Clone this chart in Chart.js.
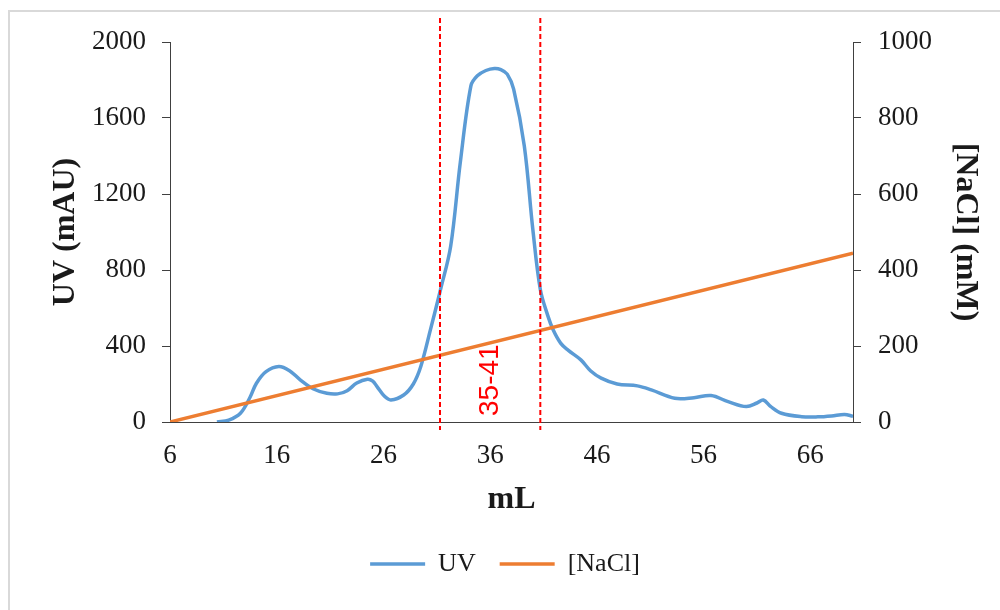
<!DOCTYPE html>
<html><head><meta charset="utf-8">
<script src="https://cdn.jsdelivr.net/npm/chart.js@4.4.1/dist/chart.umd.min.js"></script>
<style>
html,body{margin:0;padding:0;background:#fff;}
#frame{position:absolute;left:8px;top:10px;width:992px;height:600px;border-top:2px solid #d9d9d9;border-left:2px solid #d9d9d9;box-sizing:border-box;}
#wrap{position:absolute;left:0;top:0;width:1000px;height:610px;}
</style></head><body>
<div id="frame"></div>
<div id="wrap"><canvas id="c" width="1000" height="610"></canvas></div>
<script>
// ---- data ----
const uvVolume = [10.4, 11.5, 12.6, 13.5, 14.1, 15.0, 16.2, 17.2, 18.2, 19.4, 20.7, 21.7, 22.6, 23.5, 24.5, 25.0, 25.4, 26.1, 26.7, 27.9, 28.8, 29.5, 30.4, 31.35, 32.3, 33.2, 34.2, 34.8, 35.6, 36.4, 37.0, 37.6, 38.2, 39.2, 40.0, 40.7, 41.4, 41.9, 42.6, 43.3, 44.5, 45.4, 46.4, 47.9, 49.8, 51.1, 53.3, 55.1, 56.7, 58.3, 60.0, 61.0, 61.6, 62.3, 63.3, 65.2, 66.7, 68.0, 69.2, 70.0];
const uvValues = [0, 10, 46, 130, 204, 265, 292, 270, 222, 175, 151, 148, 165, 205, 225, 215, 186, 135, 116, 142, 200, 292, 485, 697, 925, 1365, 1770, 1822, 1850, 1861, 1855, 1831, 1752, 1453, 1013, 697, 560, 485, 415, 378, 327, 270, 231, 200, 190, 169, 125, 128, 139, 107, 81, 100, 116, 81, 46, 28, 27, 32, 40, 30];
const naclVolume = [6, 70];
const naclValues = [0, 444];
const xTicks = [6, 16, 26, 36, 46, 56, 66];
const uvTicks = [0, 400, 800, 1200, 1600, 2000];
const naclTicks = [0, 200, 400, 600, 800, 1000];
const fractionBounds = [31.3, 40.7];
const fractionLabel = '35-41';
const fractionLabelAt = 36;

const serif = '"Liberation Serif", "Times New Roman", serif';
const axisColor = '#404040';
const textColor = '#1a1a1a';

const toPoints = (xs, ys) => xs.map((v, i) => ({x: v, y: ys[i]}));
const plain = v => String(v);

const fractionPlugin = {
  id: 'fractions',
  afterDatasetsDraw(chart) {
    const {ctx, chartArea, scales} = chart;
    const x = scales.x;
    ctx.save();
    ctx.strokeStyle = '#ff0000';
    ctx.lineWidth = 2;
    ctx.setLineDash([5, 3]);
    fractionBounds.forEach(v => {
      const px = x.getPixelForValue(v);
      ctx.beginPath();
      ctx.moveTo(px, chartArea.top - 24);
      ctx.lineTo(px, chartArea.bottom + 8);
      ctx.stroke();
    });
    ctx.setLineDash([]);
    ctx.translate(x.getPixelForValue(fractionLabelAt), chartArea.bottom - 6);
    ctx.rotate(-Math.PI / 2);
    ctx.fillStyle = '#ff0000';
    ctx.font = '28px "Liberation Sans", Arial, sans-serif';
    ctx.textAlign = 'left';
    ctx.textBaseline = 'middle';
    ctx.fillText(fractionLabel, 0, 0);
    ctx.restore();
  }
};

new Chart(document.getElementById('c'), {
  type: 'line',
  data: {
    datasets: [
      {label: 'UV', data: toPoints(uvVolume, uvValues), yAxisID: 'y', borderColor: '#5b9bd5', backgroundColor: '#5b9bd5', borderWidth: 3.5, pointRadius: 0, tension: 0.35, order: 1},
      {label: '[NaCl]', data: toPoints(naclVolume, naclValues), yAxisID: 'y2', borderColor: '#ed7d31', backgroundColor: '#ed7d31', borderWidth: 3.5, pointRadius: 0, order: 0}
    ]
  },
  options: {
    responsive: false,
    animation: false,
    devicePixelRatio: 1,
    layout: {padding: {left: 20, right: 10, top: 42, bottom: 23}},
    plugins: {
      tooltip: {enabled: false},
      legend: {
        position: 'bottom',
        labels: {usePointStyle: true, pointStyle: 'line', pointStyleWidth: 55, font: {family: serif, size: 26}, color: textColor, padding: 24,
                 sort: (a, b) => a.datasetIndex - b.datasetIndex}
      }
    },
    scales: {
      x: {
        type: 'linear', position: 'bottom', min: 6, max: 70,
        afterBuildTicks: s => { s.ticks = xTicks.map(v => ({value: v})); },
        afterFit: s => { s.height = 105; },
        ticks: {font: {family: serif, size: 27}, color: textColor, padding: 10, maxRotation: 0, autoSkip: false, callback: plain},
        grid: {display: false},
        border: {display: true, color: axisColor, width: 1},
        title: {display: true, text: 'mL', font: {family: serif, size: 32, weight: 'bold'}, color: textColor, padding: {top: 0, bottom: 8}}
      },
      y: {
        type: 'linear', position: 'left', min: 0, max: 2000,
        afterBuildTicks: s => { s.ticks = uvTicks.map(v => ({value: v})); },
        afterFit: s => { s.width = 150; },
        ticks: {font: {family: serif, size: 27}, color: textColor, padding: 16, callback: plain},
        grid: {drawOnChartArea: false, tickLength: 8, color: axisColor},
        border: {display: true, color: axisColor, width: 1},
        title: {display: true, text: 'UV (mAU)', font: {family: serif, size: 32, weight: 'bold'}, color: textColor, padding: {top: 27, bottom: 0}}
      },
      y2: {
        type: 'linear', position: 'right', min: 0, max: 1000,
        afterBuildTicks: s => { s.ticks = naclTicks.map(v => ({value: v})); },
        afterFit: s => { s.width = 137; },
        ticks: {font: {family: serif, size: 27}, color: textColor, padding: 17, callback: plain},
        grid: {drawOnChartArea: false, tickLength: 8, color: axisColor},
        border: {display: true, color: axisColor, width: 1},
        title: {display: true, text: '[NaCl] (mM)', font: {family: serif, size: 32, weight: 'bold'}, color: textColor, padding: {top: 6, bottom: 0}}
      }
    }
  },
  plugins: [fractionPlugin]
});
</script>
</body></html>
